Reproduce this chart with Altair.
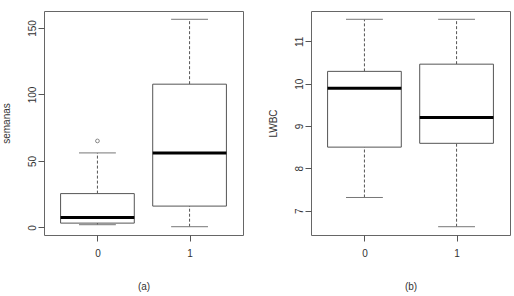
import json
import altair as alt
import pandas as pd

groups = ["0", "1"]

# panel (a): semanas
sem_low = [2.0, 0.5]
sem_q1 = [3.2, 16.0]
sem_med = [7.5, 56.0]
sem_q3 = [25.4, 107.7]
sem_high = [56.0, 156.5]
sem_out_group = ["0"]
sem_out_val = [65.0]
sem_ticks = [0, 50, 100, 150]

# panel (b): LWBC
lw_low = [7.31, 6.62]
lw_q1 = [8.50, 8.59]
lw_med = [9.89, 9.20]
lw_q3 = [10.29, 10.46]
lw_high = [11.52, 11.52]
lw_ticks = [7, 8, 9, 10, 11]

FONT = "Liberation Sans"
TXT = "#333333"
LINE = "#555555"
XDOM = [0.42, 2.58]
W, H = 199, 224


def stats_df(low, q1, med, q3, high):
    pos = list(range(1, len(groups) + 1))
    return pd.DataFrame({"g": groups, "pos": pos, "low": low, "q1": q1,
                         "med": med, "q3": q3, "high": high})


def panel(df, out_df, ytitle, xtitle, yticks):
    lo = min(df["low"].min(), out_df["val"].min() if len(out_df) else df["low"].min())
    hi = max(df["high"].max(), out_df["val"].max() if len(out_df) else df["high"].max())
    pad = (hi - lo) * 0.04
    ydom = [lo - pad, hi + pad]
    xs = alt.Scale(domain=XDOM, nice=False, zero=False)
    ys = alt.Scale(domain=ydom, nice=False, zero=False)
    base = alt.Chart(df).transform_calculate(
        left="datum.pos - 0.4", right="datum.pos + 0.4",
        capl="datum.pos - 0.2", capr="datum.pos + 0.2")
    xaxis = alt.Axis(values=list(range(1, len(groups) + 1)),
                     labelExpr=f"{json.dumps(groups)}[datum.value - 1]",
                     title=xtitle, labelPadding=7, titlePadding=23)
    yaxis = alt.Axis(values=yticks, title=ytitle, labelAngle=-90,
                     labelAlign="center", labelBaseline="bottom",
                     labelPadding=1, titlePadding=16)

    def X(f):
        return alt.X(f, type="quantitative", scale=xs, axis=xaxis)

    def Y(f):
        return alt.Y(f, type="quantitative", scale=ys, axis=yaxis)

    up = base.mark_rule(color=LINE, strokeDash=[3, 2]).encode(
        x=X("pos"), y=Y("q3"), y2="high:Q")
    dn = base.mark_rule(color=LINE, strokeDash=[3, 2]).encode(
        x=X("pos"), y=Y("low"), y2="q1:Q")
    caph = base.mark_rule(color="#777777").encode(
        x=X("capl"), x2="capr:Q", y=Y("high"))
    capl = base.mark_rule(color="#777777").encode(
        x=X("capl"), x2="capr:Q", y=Y("low"))
    box = base.mark_rect(fill="white", stroke=LINE, strokeWidth=1).encode(
        x=X("left"), x2="right:Q", y=Y("q1"), y2="q3:Q")
    med = base.mark_rule(color="black", strokeWidth=3).encode(
        x=X("left"), x2="right:Q", y=Y("med"))
    layers = [up, dn, caph, capl, box, med]
    if len(out_df):
        pts = alt.Chart(out_df).mark_point(shape="circle", filled=False, size=14,
                                           color=LINE, strokeWidth=1).encode(
            x=X("pos"), y=Y("val"))
        layers.append(pts)
    return alt.layer(*layers).properties(width=W, height=H)


sem_df = stats_df(sem_low, sem_q1, sem_med, sem_q3, sem_high)
sem_out = pd.DataFrame({"g": sem_out_group,
                        "pos": [groups.index(g) + 1 for g in sem_out_group],
                        "val": sem_out_val})
lw_df = stats_df(lw_low, lw_q1, lw_med, lw_q3, lw_high)
lw_out = pd.DataFrame({"g": [], "pos": [], "val": []})

left = panel(sem_df, sem_out, "semanas", "(a)", sem_ticks)
right = panel(lw_df, lw_out, "LWBC", "(b)", lw_ticks)

chart = alt.hconcat(left, right, spacing=23).properties(
    padding={"left": 0, "top": 10, "right": 0, "bottom": 0},
    background="white"
).configure_view(stroke="#666666", strokeWidth=1).configure_axis(
    grid=False, domain=False, tickSize=6, tickColor=LINE,
    labelFont=FONT, labelFontSize=10, labelColor=TXT,
    titleFont=FONT, titleFontSize=10, titleColor=TXT, titleFontWeight="normal"
)

chart.save("out.html", embed_options={"renderer": "svg", "actions": False})
